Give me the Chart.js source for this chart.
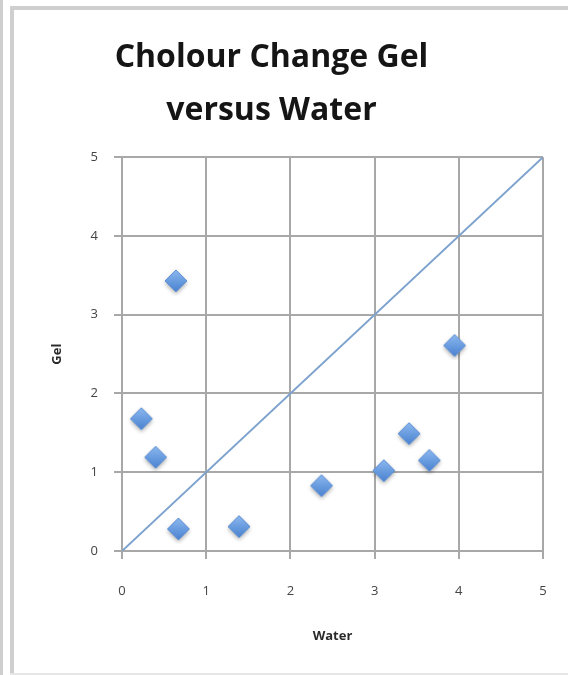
<!DOCTYPE html>
<html>
<head>
<meta charset="utf-8">
<script src="https://cdn.jsdelivr.net/npm/chart.js@4.4.1/dist/chart.umd.min.js"></script>
<style>
  html, body { margin: 0; padding: 0; background: #fff; }
  #wrap { position: relative; width: 568px; height: 675px; overflow: hidden; }
  #chart { position: absolute; left: 0; top: 0; }
  .edge { position: absolute; background: #cfcfcf; }
</style>
</head>
<body>
<div id="wrap">
  <canvas id="chart" width="568" height="675"></canvas>
  <div class="edge" style="left:0;top:0;width:3px;height:675px;"></div>
  <div class="edge" style="left:10px;top:6px;width:4px;height:669px;"></div>
  <div class="edge" style="left:10px;top:6px;width:558px;height:4px;"></div>
  <div class="edge" style="left:10px;top:673px;width:558px;height:2px;background:#e6e6e6;"></div>
</div>
<script>
// Colour change scores: water treatment (x) against gel treatment (y)
const waterScores = [0.64, 0.23, 0.40, 0.67, 1.39, 2.37, 3.11, 3.41, 3.65, 3.95];
const gelScores   = [3.43, 1.68, 1.19, 0.28, 0.31, 0.83, 1.02, 1.49, 1.15, 2.61];
// Line of equality y = x
const equalityX = [0, 5];
const equalityY = [0, 5];
const tickValues = [0, 1, 2, 3, 4, 5];
const titleLines = ['Cholour Change Gel', 'versus Water'];

// Diamond marker with a soft gradient and drop shadow
function makeDiamond() {
  const size = 30, r = 11;
  const c = document.createElement('canvas');
  c.width = size; c.height = size;
  const g = c.getContext('2d');
  const cx = size / 2, cy = size / 2;
  g.shadowColor = 'rgba(0,0,0,0.35)';
  g.shadowBlur = 4;
  g.shadowOffsetY = 2;
  const grad = g.createLinearGradient(0, cy - r, 0, cy + r);
  grad.addColorStop(0, '#8db8ef');
  grad.addColorStop(0.5, '#6a9de0');
  grad.addColorStop(1, '#4b82d0');
  g.beginPath();
  g.moveTo(cx, cy - r);
  g.lineTo(cx + r, cy);
  g.lineTo(cx, cy + r);
  g.lineTo(cx - r, cy);
  g.closePath();
  g.fillStyle = grad;
  g.fill();
  g.shadowColor = 'transparent';
  g.lineWidth = 1;
  g.strokeStyle = '#5d8fd3';
  g.stroke();
  return c;
}

const points = waterScores.map((x, i) => ({ x: x, y: gelScores[i] }));
const equality = equalityX.map((x, i) => ({ x: x, y: equalityY[i] }));

const gridColor = '#a8a8a8';
const tickFont = { family: 'Open Sans', size: 13 };

new Chart(document.getElementById('chart'), {
  type: 'scatter',
  data: {
    datasets: [
      {
        label: 'Gel vs Water',
        data: points,
        pointStyle: makeDiamond(),
        pointRadius: 11,
        pointHoverRadius: 11
      },
      {
        label: 'y = x',
        data: equality,
        showLine: true,
        borderColor: '#7da2cd',
        borderWidth: 2,
        pointRadius: 0,
        pointHoverRadius: 0
      }
    ]
  },
  options: {
    responsive: false,
    animation: false,
    events: [],
    layout: { padding: { left: 0, right: 25, top: 31, bottom: 0 } },
    plugins: {
      legend: { display: false },
      tooltip: { enabled: false },
      title: {
        display: true,
        text: titleLines,
        color: '#151515',
        font: { family: 'Open Sans', size: 32, weight: 'bold', lineHeight: 1.66 },
        padding: { top: 0, bottom: 20 }
      }
    },
    scales: {
      x: {
        type: 'linear',
        min: 0, max: 5,
        afterBuildTicks: s => { s.ticks = tickValues.map(v => ({ value: v })); },
        afterFit: s => { s.height = 124; s.paddingLeft = 4; s.paddingRight = 4; },
        ticks: { color: '#444', font: tickFont, padding: 24, maxRotation: 0 },
        grid: { color: gridColor, lineWidth: 2, tickLength: 8 },
        border: { color: gridColor, width: 2 },
        title: {
          display: true, text: 'Water', color: '#2a2a2a',
          font: { family: 'Open Sans', size: 13, weight: 'bold' },
          padding: { top: 4, bottom: 31 }
        }
      },
      y: {
        type: 'linear',
        min: 0, max: 5,
        afterBuildTicks: s => { s.ticks = tickValues.map(v => ({ value: v })); },
        afterFit: s => { s.width = 122; },
        ticks: { color: '#444', font: tickFont, padding: 16 },
        grid: { color: gridColor, lineWidth: 2, tickLength: 8 },
        border: { color: gridColor, width: 2 },
        title: {
          display: true, text: 'Gel', color: '#2a2a2a',
          font: { family: 'Open Sans', size: 13, weight: 'bold' },
          padding: { top: 49, bottom: 0 }
        }
      }
    }
  }
});
</script>
</body>
</html>
